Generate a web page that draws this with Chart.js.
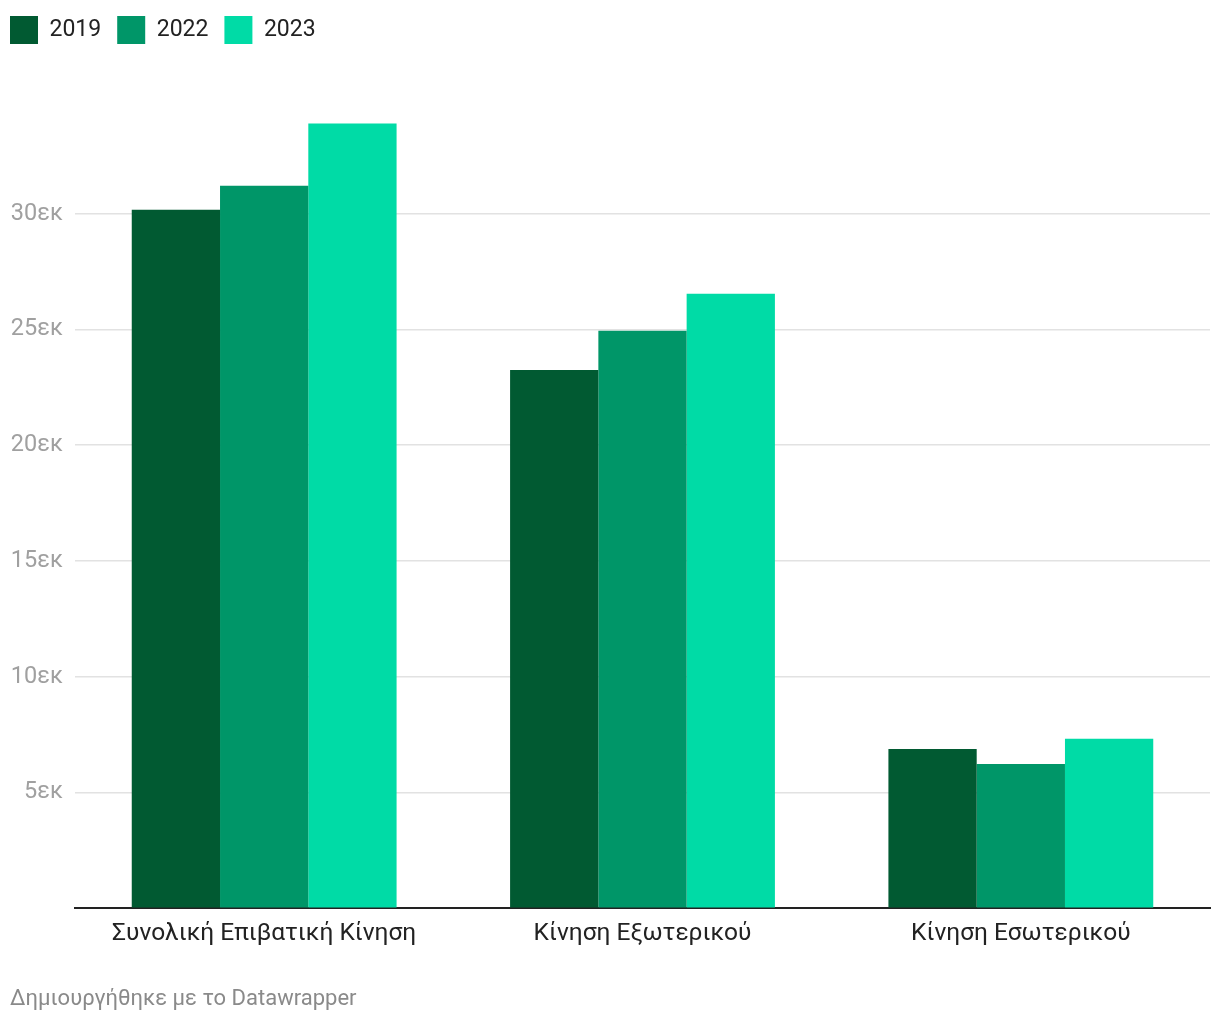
<!DOCTYPE html>
<html>
<head>
<meta charset="utf-8">
<script src="https://cdn.jsdelivr.net/npm/chart.js@4"></script>
<style>
  body { margin: 0; background: #fff; }
  #wrap { width: 1220px; height: 1020px; }
</style>
</head>
<body>
<div id="wrap"><canvas id="passengerChart"></canvas></div>
<script>
// κατηγορίες και τιμές (σε εκατομμύρια)
const categories = ['Συνολική Επιβατική Κίνηση', 'Κίνηση Εξωτερικού', 'Κίνηση Εσωτερικού'];
const years = ['2019', '2022', '2023'];
const values2019 = [30.17, 23.25, 6.88];
const values2022 = [31.21, 24.94, 6.23];
const values2023 = [33.9, 26.54, 7.32];
const yTicks = [5, 10, 15, 20, 25, 30];

const colors = ['#015a32', '#009668', '#00dba6'];

Chart.defaults.font.family = 'Roboto, sans-serif';

// μετακινεί το υπόμνημα στο αριστερό άκρο (χωρίς το padding των labels)
const legendShift = {
    id: 'legendShift',
    afterLayout: function (chart) {
        chart.legend.left -= 16;
        chart.legend.right -= 16;
    }
};

const ctx = document.getElementById('passengerChart').getContext('2d');
const passengerChart = new Chart(ctx, {
    type: 'bar',
    data: {
        labels: categories,
        datasets: [
            { label: years[0], data: values2019, backgroundColor: colors[0] },
            { label: years[1], data: values2022, backgroundColor: colors[1] },
            { label: years[2], data: values2023, backgroundColor: colors[2] }
        ]
    },
    plugins: [legendShift],
    options: {
        responsive: true,
        maintainAspectRatio: false,
        animation: false,
        layout: { padding: { left: 10, right: 10, top: 0, bottom: 7 } },
        datasets: {
            bar: { categoryPercentage: 0.7, barPercentage: 1.0 }
        },
        plugins: {
            tooltip: { enabled: false },
            legend: {
                position: 'top',
                align: 'start',
                labels: {
                    boxWidth: 28,
                    boxHeight: 28,
                    padding: 16,
                    color: '#222',
                    font: { size: 23 }
                }
            },
            title: {
                display: true,
                position: 'bottom',
                align: 'start',
                text: 'Δημιουργήθηκε με το Datawrapper',
                color: '#8a8a8a',
                font: { size: 22, weight: 'normal' },
                padding: { top: 27, bottom: 0 }
            }
        },
        scales: {
            x: {
                grid: { display: false, drawTicks: false },
                border: { display: true, color: '#222', width: 2 },
                ticks: {
                    color: '#222',
                    font: { size: 24.5 },
                    padding: 11,
                    maxRotation: 0
                }
            },
            y: {
                min: 0,
                max: 36.9,
                afterFit: function (scale) { scale.width = 65; },
                border: { display: false },
                grid: {
                    drawTicks: false,
                    lineWidth: 1.5,
                    color: function (c) {
                        return yTicks.includes(c.tick.value) ? '#e2e2e2' : 'rgba(0,0,0,0)';
                    }
                },
                ticks: {
                    stepSize: 5,
                    padding: 12,
                    color: '#a0a0a0',
                    font: { size: 23.5 },
                    callback: function (value) {
                        return yTicks.includes(value) ? value + 'εκ' : '';
                    }
                }
            }
        }
    }
});
</script>
</body>
</html>
